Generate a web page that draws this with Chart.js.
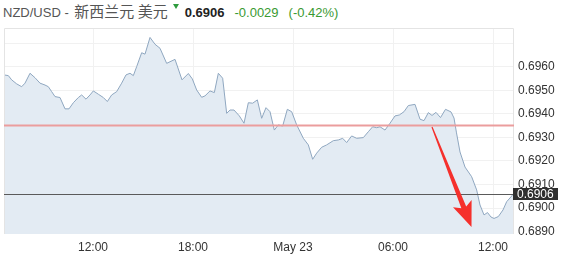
<!DOCTYPE html>
<html><head><meta charset="utf-8">
<script src="https://cdn.jsdelivr.net/npm/chart.js@4.4.1/dist/chart.umd.min.js"></script>
<style>
html,body{margin:0;padding:0;background:#fff;width:566px;height:261px;overflow:hidden}
#wrap{position:relative;width:566px;height:261px}
#c{position:absolute;left:0;top:0}
#title{position:absolute;left:3px;top:3px;font:13px/15px "Liberation Sans",Arial,"Noto Sans CJK SC",sans-serif;color:#555;white-space:nowrap}
#title .cn{font-family:"Noto Sans CJK SC",sans-serif;font-size:15px;margin-left:2px}
#title .tri{display:inline-block;width:0;height:0;border-left:3px solid transparent;border-right:3px solid transparent;border-top:5px solid #2e9b3e;vertical-align:top;margin:1px 6px 0 5px}
#title .px{font-weight:bold;color:#222;margin-right:10px}
#title .chg{color:#3a9a32}
</style></head>
<body><div id="wrap"><div id="title"></div><canvas id="c" width="566" height="261"></canvas></div>
<script>
// ---- data ----
const pairName = "NZD/USD - ";
const pairCn = "新西兰元 美元";
const lastPrice = 0.6906;
const prevClose = 0.6935;
const change = "-0.0029";
const changePct = "(-0.42%)";

// hours since May 22 00:00
const times = [6.66,6.92,7.12,7.42,7.72,7.92,8.22,8.52,8.82,9.12,9.32,9.52,9.72,10.02,10.32,10.56,10.82,11.12,11.32,11.58,
11.82,12.02,12.32,12.62,12.86,13.12,13.42,13.72,13.98,14.22,14.42,14.62,14.92,15.12,15.42,15.72,16.02,16.42,16.92,17.34,
17.72,17.96,18.22,18.52,18.72,19.02,19.28,19.52,19.78,20.02,20.22,20.46,20.78,21.06,21.32,21.58,21.86,22.12,22.38,22.62,
22.88,23.12,23.38,23.66,23.92,24.22,24.62,24.92,25.18,25.42,25.72,26.02,26.42,26.72,26.98,27.22,27.52,27.82,28.22,28.52,
28.78,29.02,29.22,29.52,29.82,30.12,30.38,30.66,30.92,31.32,31.62,31.86,32.12,32.34,32.58,32.85,33.15,33.48,33.66,33.81,
34.02,34.32,34.72,35.02,35.22,35.46,35.67,35.88,36.06,36.32,36.60,36.82,37.12,37.22];
const prices = [0.69565,0.69562,0.69544,0.69527,0.69515,0.69530,0.69572,0.69553,0.69530,0.69522,0.69515,0.69494,0.69473,0.69469,0.69421,0.69421,0.69447,0.69469,0.69480,0.69462,
0.69480,0.69497,0.69483,0.69469,0.69452,0.69480,0.69494,0.69530,0.69565,0.69572,0.69562,0.69600,0.69659,0.69653,0.69724,0.69695,0.69678,0.69614,0.69631,0.69544,
0.69571,0.69548,0.69501,0.69470,0.69476,0.69497,0.69490,0.69572,0.69551,0.69402,0.69416,0.69416,0.69391,0.69360,0.69447,0.69445,0.69459,0.69381,0.69426,0.69409,
0.69331,0.69353,0.69348,0.69419,0.69409,0.69353,0.69296,0.69268,0.69207,0.69233,0.69258,0.69268,0.69286,0.69289,0.69296,0.69278,0.69306,0.69296,0.69299,0.69324,
0.69345,0.69341,0.69345,0.69331,0.69360,0.69391,0.69395,0.69409,0.69435,0.69440,0.69377,0.69371,0.69405,0.69393,0.69406,0.69384,0.69419,0.69408,0.69382,0.69319,
0.69238,0.69174,0.69133,0.69077,0.69013,0.68971,0.68981,0.68962,0.68956,0.68964,0.68992,0.69027,0.69051,0.69060];

const xTickValues = [12,18,24,30,36];
const xTickLabels = ["12:00","18:00","May 23","06:00","12:00"];
const yTickValues = [0.6890,0.6900,0.6910,0.6920,0.6930,0.6940,0.6950,0.6960,0.6970];
const yLabelMax = 0.6960;

// arrow annotation (hours, price): start -> tip
const arrowFrom = [32.34, 0.69344];
const arrowTo = [34.71, 0.68920];

// ---- title ----
document.getElementById('title').innerHTML =
  pairName + '<span class="cn">' + pairCn + '</span>' +
  '<span class="tri"></span><span class="px">' + lastPrice.toFixed(4) + '</span>' +
  '<span class="chg">' + change + '</span><span class="chg" style="margin-left:10px">' + changePct + '</span>';

const FONT = '"Liberation Sans", Arial, sans-serif';

const overlay = {
  id: 'overlay',
  afterDatasetsDraw(chart) {
    const {ctx, chartArea: a, scales: {x, y}} = chart;
    ctx.save();
    // plot border
    ctx.strokeStyle = '#e4e4e4'; ctx.lineWidth = 1;
    ctx.beginPath();
    ctx.moveTo(a.left + 0.5, a.bottom); ctx.lineTo(a.left + 0.5, a.top + 0.5);
    ctx.lineTo(a.right - 0.5, a.top + 0.5); ctx.lineTo(a.right - 0.5, a.bottom);
    ctx.stroke();
    // previous close line
    const yp = y.getPixelForValue(prevClose);
    ctx.strokeStyle = '#eb9d9d'; ctx.lineWidth = 2;
    ctx.beginPath(); ctx.moveTo(a.left, yp); ctx.lineTo(a.right, yp); ctx.stroke();
    // last price line
    const yl = Math.round(y.getPixelForValue(lastPrice)) + 0.5;
    ctx.strokeStyle = '#5a5a5a'; ctx.lineWidth = 1;
    ctx.beginPath(); ctx.moveTo(a.left, yl); ctx.lineTo(a.right, yl); ctx.stroke();
    // arrow
    const x0 = x.getPixelForValue(arrowFrom[0]), y0 = y.getPixelForValue(arrowFrom[1]);
    const x1 = x.getPixelForValue(arrowTo[0]), y1 = y.getPixelForValue(arrowTo[1]);
    const len = Math.hypot(x1 - x0, y1 - y0);
    const dx = (x1 - x0) / len, dy = (y1 - y0) / len;
    const nx = -dy, ny = dx;
    const headLen = 25, headW = 10, shaftEnd = 2.6, notch = 4;
    const bx = x1 - dx * headLen, by = y1 - dy * headLen;
    const sx = bx + dx * notch, sy = by + dy * notch;
    ctx.fillStyle = '#f5302c';
    ctx.beginPath();
    ctx.moveTo(x0 + nx * 0.6, y0 + ny * 0.6);
    ctx.lineTo(sx + nx * shaftEnd, sy + ny * shaftEnd);
    ctx.lineTo(bx + nx * headW, by + ny * headW);
    ctx.lineTo(x1, y1);
    ctx.lineTo(bx - nx * headW, by - ny * headW);
    ctx.lineTo(sx - nx * shaftEnd, sy - ny * shaftEnd);
    ctx.lineTo(x0 - nx * 0.6, y0 - ny * 0.6);
    ctx.closePath();
    ctx.fill();
    ctx.restore();
  },
  afterDraw(chart) {
    const {ctx, chartArea: a, scales: {y}} = chart;
    const yl = y.getPixelForValue(lastPrice);
    ctx.save();
    ctx.fillStyle = '#2f2f2f';
    ctx.fillRect(a.right - 1, Math.round(yl) - 6, 45, 12);
    ctx.fillStyle = '#fff';
    ctx.font = '12px ' + FONT;
    ctx.textBaseline = 'middle';
    ctx.textAlign = 'left';
    ctx.fillText(lastPrice.toFixed(4), a.right + 3, Math.round(yl) + 0.5);
    ctx.restore();
  }
};

new Chart(document.getElementById('c'), {
  type: 'line',
  data: {
    datasets: [{
      data: times.map((t, i) => ({x: t, y: prices[i]})),
      borderColor: '#8fa7c0',
      borderWidth: 1,
      backgroundColor: '#e3ebf3',
      fill: 'start',
      pointRadius: 0,
      tension: 0
    }]
  },
  options: {
    responsive: false,
    animation: false,
    devicePixelRatio: 1,
    layout: {padding: {left: 4, top: 28, right: 0, bottom: 0}},
    plugins: {legend: {display: false}, tooltip: {enabled: false}},
    scales: {
      x: {
        type: 'linear',
        min: 6.66, max: 37.26,
        afterBuildTicks: s => { s.ticks = xTickValues.map(v => ({value: v})); },
        afterFit: s => { s.height = 27; },
        grid: {color: '#f1f1f1', drawTicks: false},
        border: {display: false},
        ticks: {
          padding: 6, maxRotation: 0, autoSkip: false,
          color: '#333', font: {family: FONT, size: 12},
          callback: v => xTickLabels[xTickValues.indexOf(v)]
        }
      },
      y: {
        type: 'linear',
        position: 'right',
        min: 0.68890, max: 0.69764,
        afterBuildTicks: s => { s.ticks = yTickValues.map(v => ({value: v})); },
        afterFit: s => { s.width = 52; },
        grid: {color: '#f1f1f1', drawTicks: false},
        border: {display: false},
        ticks: {
          padding: 4, autoSkip: false,
          color: '#333', font: {family: FONT, size: 12},
          callback: v => v > yLabelMax + 1e-6 ? '' : v.toFixed(4)
        }
      }
    }
  },
  plugins: [overlay]
});
</script></body></html>
